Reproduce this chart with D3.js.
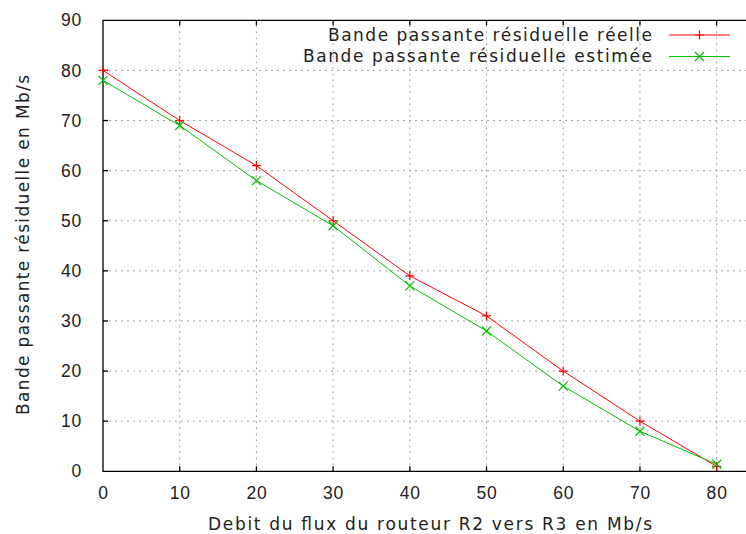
<!DOCTYPE html>
<html>
<head>
<meta charset="utf-8">
<script src="https://cdn.jsdelivr.net/npm/d3@7"></script>
<style>
  body { margin: 0; background: #fff; }
  svg { display: block; font-family: "DejaVu Sans", sans-serif; }
  text { fill: #222; }
</style>
</head>
<body>
<svg width="746" height="534"></svg>
<script>
var debit = [0, 10, 20, 30, 40, 50, 60, 70, 80];
var reelle = [80, 70, 61, 50, 39, 31, 20, 10, 1];
var estimee = [78, 69, 58, 49, 37, 28, 17, 8, 1.4];
var xTicks = [0, 10, 20, 30, 40, 50, 60, 70, 80];
var yTicks = [0, 10, 20, 30, 40, 50, 60, 70, 80, 90];

var svg = d3.select("svg");

var x = d3.scaleLinear().domain([0, 85]).range([103, 755]);
var y = d3.scaleLinear().domain([0, 90]).range([471.3, 20.3]);

// grille pointillée
var grid = svg.append("g")
    .attr("stroke", "#a0a0a0")
    .attr("stroke-dasharray", "2,4");

grid.selectAll("line.gx")
  .data(xTicks.filter(function(d) { return d > 0; }))
  .enter().append("line")
    .attr("x1", function(d) { return x(d); })
    .attr("x2", function(d) { return x(d); })
    .attr("y1", y(0))
    .attr("y2", y(90));

grid.selectAll("line.gy")
  .data(yTicks.filter(function(d) { return d > 0 && d < 90; }))
  .enter().append("line")
    .attr("x1", x(0))
    .attr("x2", x(85))
    .attr("y1", function(d) { return y(d); })
    .attr("y2", function(d) { return y(d); });

// axes
var xAxis = d3.axisBottom(x).tickValues(xTicks).tickSize(0).tickPadding(15);
var yAxis = d3.axisLeft(y).tickValues(yTicks).tickSize(0).tickPadding(21);

svg.append("g")
    .attr("transform", "translate(0," + y(0) + ")")
    .call(xAxis)
    .call(function(g) { g.select(".domain").remove(); })
    .selectAll("text").attr("font-size", 17.5).attr("fill", "#222")
    .attr("letter-spacing", 0.8);

svg.append("g")
    .attr("transform", "translate(" + x(0) + ",0)")
    .call(yAxis)
    .call(function(g) { g.select(".domain").remove(); })
    .selectAll("text").attr("font-size", 17.5).attr("fill", "#222")
    .attr("letter-spacing", 0.8);

// cadre et graduations internes
var frame = svg.append("g").attr("stroke", "#000").attr("stroke-width", 1.3);
frame.append("path")
    .attr("fill", "none")
    .attr("d", "M" + x(85) + "," + y(90) + "H" + x(0) + "V" + y(0) + "H" + x(85));

frame.selectAll("line.tb")
  .data(xTicks.filter(function(d) { return d > 0; }))
  .enter().append("line")
    .attr("x1", function(d) { return x(d); })
    .attr("x2", function(d) { return x(d); })
    .attr("y1", y(0))
    .attr("y2", y(0) - 5);

frame.selectAll("line.tt")
  .data(xTicks.filter(function(d) { return d > 0; }))
  .enter().append("line")
    .attr("x1", function(d) { return x(d); })
    .attr("x2", function(d) { return x(d); })
    .attr("y1", y(90))
    .attr("y2", y(90) + 5);

frame.selectAll("line.tl")
  .data(yTicks.filter(function(d) { return d > 0 && d < 90; }))
  .enter().append("line")
    .attr("x1", x(0))
    .attr("x2", x(0) + 5)
    .attr("y1", function(d) { return y(d); })
    .attr("y2", function(d) { return y(d); });

// séries
var series = [
  { name: "Bande passante résiduelle réelle", values: reelle, color: "#ff0000", marker: "plus", start: 328 },
  { name: "Bande passante résiduelle estimée", values: estimee, color: "#00c000", marker: "cross", start: 303 }
];

var line = d3.line()
    .x(function(d) { return x(d[0]); })
    .y(function(d) { return y(d[1]); });

function marker(g, type, cx, cy, color) {
  var s = 4.5;
  if (type === "plus") {
    g.append("path").attr("stroke", color).attr("stroke-width", 1.2)
      .attr("d", "M" + (cx - s) + "," + cy + "H" + (cx + s) + "M" + cx + "," + (cy - s) + "V" + (cy + s));
  } else {
    g.append("path").attr("stroke", color).attr("stroke-width", 1.2)
      .attr("d", "M" + (cx - s) + "," + (cy - s) + "L" + (cx + s) + "," + (cy + s) +
                 "M" + (cx - s) + "," + (cy + s) + "L" + (cx + s) + "," + (cy - s));
  }
}

series.forEach(function(s) {
  var pts = debit.map(function(d, i) { return [d, s.values[i]]; });
  svg.append("path")
      .datum(pts)
      .attr("fill", "none")
      .attr("stroke", s.color)
      .attr("stroke-width", 1)
      .attr("d", line);
  var g = svg.append("g");
  pts.forEach(function(p) { marker(g, s.marker, x(p[0]), y(p[1]), s.color); });
});

// légende
var legend = svg.append("g");
series.forEach(function(s, i) {
  var ly = 35 + i * 21.5;
  legend.append("text")
      .attr("x", s.start)
      .attr("y", ly + 5.5)
      .attr("font-size", 17)
      .attr("textLength", 652 - s.start)
      .attr("lengthAdjust", "spacing")
      .text(s.name);
  legend.append("line")
      .attr("x1", 669).attr("x2", 730)
      .attr("y1", ly).attr("y2", ly)
      .attr("stroke", s.color);
  marker(legend, s.marker, 699.5, ly, s.color);
});

// titres des axes
svg.append("text")
    .attr("x", 208)
    .attr("y", 530)
    .attr("font-size", 17)
    .attr("textLength", 444)
    .attr("lengthAdjust", "spacing")
    .text("Debit du flux du routeur R2 vers R3 en Mb/s");

svg.append("text")
    .attr("transform", "translate(29,415) rotate(-90)")
    .attr("font-size", 17)
    .attr("textLength", 340)
    .attr("lengthAdjust", "spacing")
    .text("Bande passante résiduelle en Mb/s");
</script>
</body>
</html>
